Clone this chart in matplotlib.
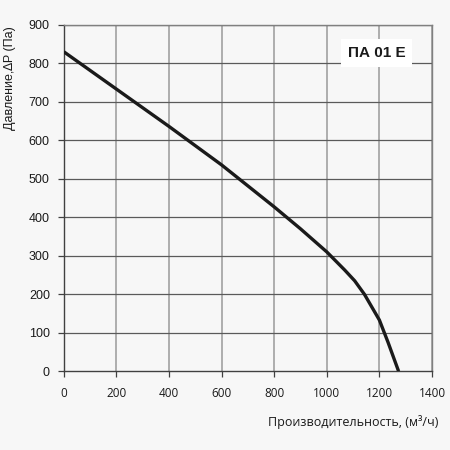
import matplotlib

matplotlib.use("Agg")
import matplotlib.pyplot as plt

# performance curve
flow = [0, 200, 400, 600, 800, 900, 1000, 1068, 1106, 1143, 1200, 1233, 1273]
pressure = [830, 733, 636, 536, 427, 370, 310, 263, 235, 200, 133, 75, 0]

x_ticks = [0, 200, 400, 600, 800, 1000, 1200, 1400]
y_ticks = [0, 100, 200, 300, 400, 500, 600, 700, 800, 900]
model = "ПА 01 E"

bg = "#f7f7f7"
fig = plt.figure(figsize=(4.5, 4.5), dpi=100, facecolor=bg)
ax = fig.add_axes([0.1416, 0.175, 0.8184, 0.77], facecolor=bg)

ax.set_xlim(0, 1400)
ax.set_ylim(0, 900)
ax.set_xticks(x_ticks)
ax.set_yticks(y_ticks)

for x in x_ticks[1:]:
    ax.axvline(x, color="#a8a8a8", lw=1.3, zorder=1)
for y in y_ticks[1:]:
    ax.axhline(y, color="#5a5a5a", lw=0.9, zorder=1)

ax.plot(flow, pressure, color="#1a1a1a", lw=2.4, zorder=3,
        solid_capstyle="butt", solid_joinstyle="round")

for side in ("top", "right"):
    ax.spines[side].set_color("#808080")
    ax.spines[side].set_linewidth(1.0)
for side in ("left", "bottom"):
    ax.spines[side].set_color("#404040")
    ax.spines[side].set_linewidth(1.0)

ax.tick_params(axis="both", length=4, width=0.9, color="#404040")
ax.tick_params(axis="y", pad=6)
ax.tick_params(axis="x", pad=7)
for lab in ax.get_yticklabels():
    lab.set_fontfamily(["Liberation Sans", "DejaVu Sans"])
    lab.set_fontsize(9)
    lab.set_color("#1a1a1a")
for lab in ax.get_xticklabels():
    lab.set_fontfamily(["Open Sans", "DejaVu Sans"])
    lab.set_fontsize(8.5)
    lab.set_color("#1a1a1a")

ax.text(1190, 827, model, ha="center", va="center", fontsize=11,
        fontweight="bold", family=["Liberation Sans", "DejaVu Sans"],
        color="#1a1a1a", zorder=5,
        bbox=dict(boxstyle="square,pad=0.45", fc="white", ec="none"))

fig.text(10 / 450, 1 - 78 / 450, "Давление,∆P (Па)", rotation=90,
         ha="center", va="center", fontsize=9,
         family=["Liberation Sans", "DejaVu Sans"], color="#1a1a1a")
fig.text(353 / 450, 1 - 421.7 / 450, "Производительность, (м³/ч)",
         ha="center", va="center", fontsize=9,
         family=["Open Sans", "DejaVu Sans"], color="#1a1a1a")

fig.savefig("out.png", dpi=100, facecolor=bg)
plt.close(fig)
